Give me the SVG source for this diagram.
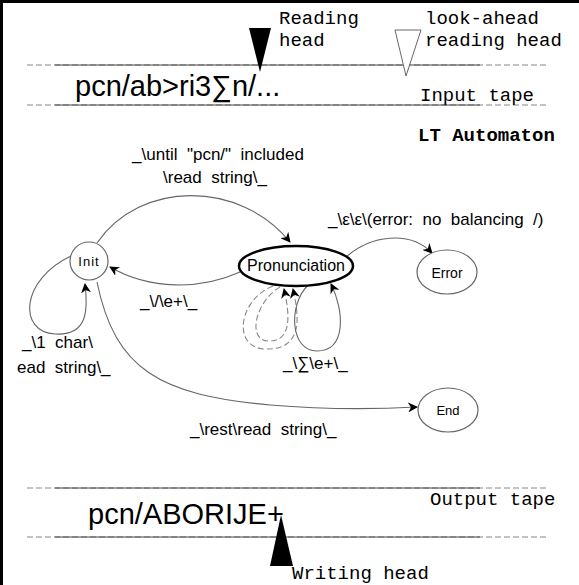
<svg xmlns="http://www.w3.org/2000/svg" width="579" height="585" viewBox="0 0 579 585">
<defs>
<marker id="ah" viewBox="0 0 10 10" refX="9" refY="5" markerWidth="10" markerHeight="10" markerUnits="userSpaceOnUse" orient="auto">
<path d="M0,0 L10,5 L0,10 L3,5 Z" fill="#000"/>
</marker>
</defs>
<style>
text{white-space:pre}
.mono{font-family:"Liberation Mono","DejaVu Sans Mono",monospace;font-size:19px;fill:#000}
.big{font-family:"Liberation Sans",Arial,sans-serif;font-size:29px;fill:#000}
.lbl{font-family:"Liberation Sans",Arial,sans-serif;font-size:17px;fill:#000}
.ntx{font-family:"Liberation Sans",Arial,sans-serif;fill:#000;text-anchor:middle}
.dash{stroke:#888;stroke-width:1.2;stroke-dasharray:6,3;fill:none}
.solid{stroke:#444;stroke-width:1;fill:none}
.edge{stroke:#666;stroke-width:1.1;fill:none}
.dedge{stroke:#888;stroke-width:1.1;fill:none;stroke-dasharray:6,3}
.node{fill:#fff;stroke:#666;stroke-width:1.2}
</style>
<rect width="579" height="585" fill="#fff"/>
<line x1="0" y1="1.5" x2="579" y2="1.5" stroke="#000" stroke-width="3"/>
<line x1="1.5" y1="0" x2="1.5" y2="585" stroke="#000" stroke-width="3"/>

<g id="input-tape">
<line class="dash" x1="27" y1="65" x2="548" y2="65"/>
<line class="solid" x1="55" y1="65" x2="480" y2="65"/>
<line class="dash" x1="27" y1="105" x2="548" y2="105"/>
<line class="solid" x1="55" y1="105" x2="480" y2="105"/>
<text class="big" x="75" y="96">pcn/ab&gt;ri3∑n/...</text>
<text class="mono" x="420" y="101">Input tape</text>
<polygon points="249,28 271,28 260,72" fill="#000"/>
<text class="mono" x="279" y="24">Reading</text>
<text class="mono" x="279" y="46">head</text>
<polygon points="395,30 421,30 406,76" fill="#fff" stroke="#666" stroke-width="1"/>
<text class="mono" x="425" y="24">look-ahead</text>
<text class="mono" x="425" y="46">reading head</text>
</g>

<text class="mono" x="418" y="141" font-weight="bold">LT Automaton</text>

<g id="connectors">
<path class="edge" d="M97,243 C140,180 240,180 290,242" marker-end="url(#ah)"/>
<path class="edge" d="M240,272 C200,290 150,290 110,267" marker-end="url(#ah)"/>
<path class="edge" d="M345,258 C370,235 410,230 432,253" marker-end="url(#ah)"/>
<path class="edge" d="M71,256 C20,280 18,332 55,334 C88,336 88,310 85,284" marker-end="url(#ah)"/>
<path class="edge" d="M97,282 C115,370 160,395 270,405 C330,410 380,409 417,407" marker-end="url(#ah)"/>
<path class="dedge" d="M273,286 C238,300 232,348 265,349 C302,350 300,320 293,289" marker-end="url(#ah)"/>
<path class="dedge" d="M280,287 C255,302 247,340 268,341 C292,342 290,315 284,289" marker-end="url(#ah)"/>
<path class="edge" d="M308,285 C288,305 290,351 317,351 C347,351 344,310 331,284" marker-end="url(#ah)"/>
</g>

<g id="labels">
<text class="lbl" x="218" y="160" text-anchor="middle">_\until  "pcn/"  included</text>
<text class="lbl" x="215" y="183" text-anchor="middle">\read  string\_</text>
<text class="lbl" x="328" y="225">_\ε\ε\(error:  no  balancing  /)</text>
<text class="lbl" x="140" y="307">_\/\e+\_</text>
<text class="lbl" x="22" y="348">_\1  char\</text>
<text class="lbl" x="17" y="373">ead  string\_</text>
<text class="lbl" x="283" y="369">_\∑\e+\_</text>
<text class="lbl" x="190" y="435">_\rest\read  string\_</text>
</g>

<g id="node-init">
<circle class="node" cx="89" cy="261" r="19"/>
<text class="ntx" x="89" y="266" font-size="13" letter-spacing="1">Init</text>
</g>
<g id="node-pronunciation">
<ellipse cx="296" cy="266" rx="57" ry="20" fill="#fff" stroke="#000" stroke-width="2.5"/>
<text class="ntx" x="296" y="271" font-size="16">Pronunciation</text>
</g>
<g id="node-error">
<ellipse class="node" cx="447" cy="272" rx="30" ry="22"/>
<text class="ntx" x="447" y="278" font-size="14">Error</text>
</g>
<g id="node-end">
<ellipse class="node" cx="448" cy="410" rx="30" ry="22"/>
<text class="ntx" x="448" y="415" font-size="13">End</text>
</g>

<g id="output-tape">
<line class="dash" x1="27" y1="488" x2="548" y2="488"/>
<line class="solid" x1="55" y1="488" x2="480" y2="488"/>
<line class="dash" x1="27" y1="537" x2="548" y2="537"/>
<line class="solid" x1="55" y1="537" x2="480" y2="537"/>
<text class="big" x="88" y="524" font-size="28">pcn/ABORIJE+</text>
<text class="mono" x="430" y="505">Output tape</text>
<polygon points="270,566 293,566 281,515" fill="#000"/>
<text class="mono" x="292" y="579">Writing head</text>
</g>
</svg>
